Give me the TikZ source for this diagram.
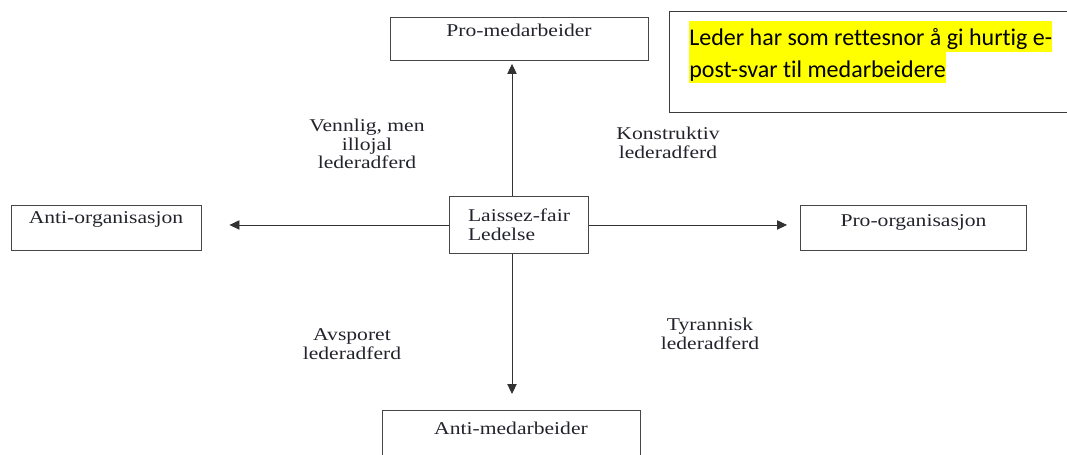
\documentclass[tikz,border=0pt]{standalone}
\usepackage{fontspec}
\setmainfont[FakeStretch=1.2]{Liberation Serif}
\newfontfamily\notefont[Ligatures=NoCommon]{Carlito}
\usetikzlibrary{arrows.meta}

\begin{document}
\begin{tikzpicture}[x=0.75pt,y=0.75pt,yscale=-1,xscale=1,
	box/.style={draw={rgb, 255:red, 70; green, 70; blue, 70 },line width=0.7pt,inner sep=0pt,font=\fontsize{13.5}{14}\selectfont,text={rgb, 255:red, 35; green, 35; blue, 45 }},
	lbl/.style={inner sep=0pt,align=center,font=\fontsize{13.5}{13.9}\selectfont,text={rgb, 255:red, 35; green, 35; blue, 45 }},
	arr/.style={draw={rgb, 255:red, 50; green, 50; blue, 50 },line width=0.7pt,-{Triangle[length=7.5pt,width=7pt]}},
	hilite/.style={fill={rgb, 255:red, 255; green, 255; blue, 0 },inner xsep=0pt,inner ysep=0pt,text height=18.5pt,text depth=4.5pt,anchor=north west,font=\notefont\fontsize{18}{22}\selectfont}]
	\useasboundingbox (0,0) rectangle (1067,454);
	
	% Boxes
	\node [box,anchor=north,minimum width=193.5pt,text height=14.25pt,text depth=18pt] (promed) at (519,17) {Pro-medarbeider};
	\node [box,anchor=north,minimum width=142.5pt,text height=13.5pt,text depth=20.25pt] (antiorg) at (106,205) {Anti-organisasjon};
	\node [box,anchor=north,minimum width=169.5pt,text height=15.75pt,text depth=18pt] (proorg) at (913.5,205) {Pro-organisasjon};
	\node [box,anchor=north,minimum width=193.5pt,text height=18pt,text depth=21pt] (antimed) at (511,410) {Anti-medarbeider};
	\node [box,anchor=north west,minimum width=104.25pt,minimum height=42.75pt,align=left,inner xsep=12.75pt] (lf) at (449,196) {Laissez-fair\\Ledelse};
	
	% Arrows
	\draw [arr,shorten >=2.25pt] (lf.north -| 512,0) -- (512,0 |- promed.south);
	\draw [arr,shorten >=12pt] (lf.south -| 512,0) -- (512,0 |- antimed.north);
	\draw [arr,shorten >=21pt] (lf.west) -- (antiorg.east |- lf.west);
	\draw [arr,shorten >=9.75pt] (lf.east) -- (proorg.west |- lf.east);
	
	% Text Node
	\node [lbl] (venn) at (367,144) {Vennlig, men\\illojal\\lederadferd};
	% Text Node
	\node [lbl] (konst) at (668,143) {Konstruktiv\\lederadferd};
	% Text Node
	\node [lbl] (avsp) at (352,344) {Avsporet\\lederadferd};
	% Text Node
	\node [lbl] (tyr) at (710,334) {Tyrannisk\\lederadferd};
	
	% Note
	\node [draw={rgb, 255:red, 60; green, 60; blue, 60 },line width=1.1pt,anchor=north west,minimum width=310pt,minimum height=75.75pt,inner sep=0pt] (note) at (669,11) {};
	\node [hilite] (noteA) at (689,21) {Leder har som rettesnor å gi hurtig e-};
	\node [hilite] (noteB) at (noteA.south west) {post-svar til medarbeidere};
	
\end{tikzpicture}
\end{document}
